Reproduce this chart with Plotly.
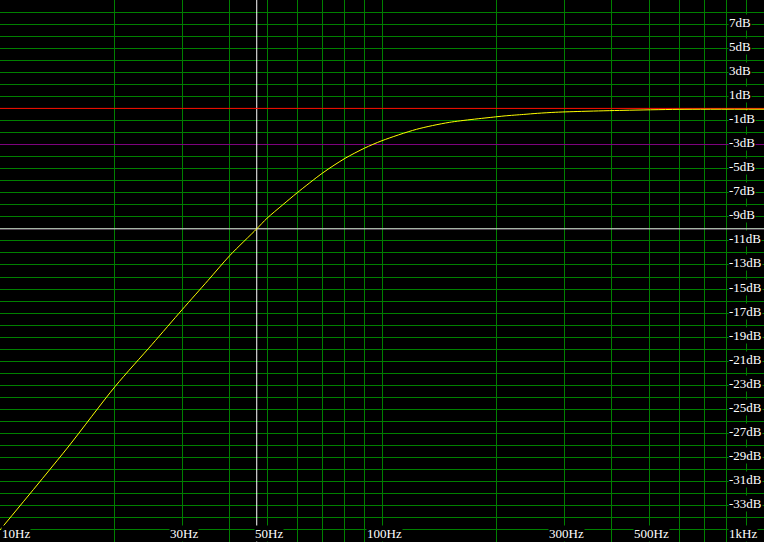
import math
import plotly.graph_objects as go

# Frequency response
freq_hz = [10, 15, 20, 25, 30, 35, 40, 47, 50, 55, 60, 70, 80, 90, 100, 123, 150, 200,
           210, 235, 255, 285, 340, 430, 600, 1000]
gain_db = [-35.0, -28.2, -23.1, -19.6, -16.7, -14.3, -12.2, -10.0, -9.12, -8.0, -7.0, -5.35,
           -4.15, -3.3, -2.68, -1.74, -1.16, -0.69,
           -0.62, -0.5, -0.41, -0.32, -0.24, -0.16, -0.08, -0.07]

# Reference / cursor levels
ref_db = 0
cutoff_db = -3
cursor_freq = 47.0
cursor_db = -10

# Grid and labels
x_grid = [10, 20, 30, 40, 50, 60, 70, 80, 90, 100, 200, 300, 400, 500, 600, 700, 800, 900, 1000]
x_label_vals = [10, 30, 50, 100, 300, 500, 1000]
x_label_text = ["10Hz", "30Hz", "50Hz", "100Hz", "300Hz", "500Hz", "1kHz"]
y_label_vals = [7, 5, 3, 1, -1, -3, -5, -7, -9, -11, -13, -15, -17, -19, -21, -23,
                -25, -27, -29, -31, -33]
y_label_text = [f"{v}dB" for v in y_label_vals]
x_min, x_max = 10, 1000
y_min, y_max = -36, 9

GREEN = "#008000"
FONT = dict(family="Liberation Serif, Times New Roman, serif", size=13, color="#ffffff")

fig = go.Figure()


def hline(level, color):
    fig.add_trace(go.Scatter(x=[x_min, x_max], y=[level, level], mode="lines",
                             line=dict(color=color, width=1),
                             hoverinfo="skip", showlegend=False))


hline(cutoff_db, "#800080")
hline(cursor_db, "#f4d0f4")
fig.add_trace(go.Scatter(x=[cursor_freq, cursor_freq], y=[y_min, y_max], mode="lines",
                         line=dict(color="#ffffff", width=1),
                         hoverinfo="skip", showlegend=False))
hline(ref_db, "#ff0000")

fig.add_trace(go.Scatter(x=freq_hz, y=gain_db, mode="lines",
                         line=dict(color="#ffff00", width=1, shape="spline", smoothing=0.8),
                         hoverinfo="skip", showlegend=False))

annotations = []
for v, t in zip(y_label_vals, y_label_text):
    annotations.append(dict(xref="paper", x=728 / 764, xanchor="left",
                            yref="y", y=v, yanchor="middle", yshift=2,
                            text=t, showarrow=False, font=FONT,
                            bgcolor="#000000", borderpad=0))
for i, (v, t) in enumerate(zip(x_label_vals, x_label_text)):
    if i == 0:
        xa = "left"
    elif i == len(x_label_vals) - 1:
        xa = "right"
    else:
        xa = "center"
    annotations.append(dict(xref="x", x=math.log10(v), xanchor=xa,
                            yref="paper", y=0, yanchor="bottom",
                            xshift=1 if i == 0 else (-6 if xa == "right" else 2),
                            text=t, showarrow=False, font=FONT,
                            bgcolor="#000000", borderpad=0))

fig.update_layout(
    width=764, height=542,
    margin=dict(l=0, r=0, t=0, b=0),
    paper_bgcolor="#000000", plot_bgcolor="#000000",
    annotations=annotations,
    xaxis=dict(type="log", range=[math.log10(x_min), math.log10(x_max)], tickvals=x_grid,
               showticklabels=False, showgrid=True, gridcolor=GREEN, gridwidth=1,
               zeroline=False, showline=False, ticks=""),
    yaxis=dict(range=[y_min, y_max], dtick=1, tick0=0, showticklabels=False,
               showgrid=True, gridcolor=GREEN, gridwidth=1, zeroline=False,
               showline=False, ticks=""),
)

fig.write_html("out.html", config={"displayModeBar": False},
               post_script="document.body.style.margin='0';document.body.style.background='#000';")
